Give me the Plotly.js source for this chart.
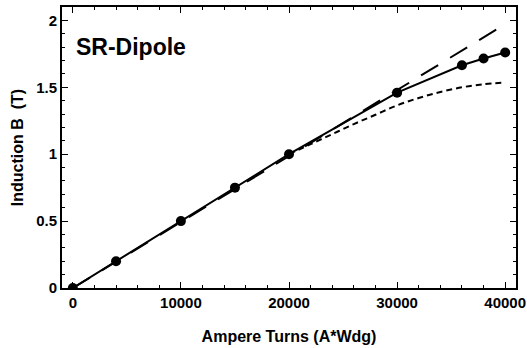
<!DOCTYPE html>
<html>
<head>
<meta charset="utf-8">
<script src="https://cdn.plot.ly/plotly-3.0.1.min.js"></script>
<style>html,body{margin:0;padding:0;background:#fff;}#chart{width:527px;height:348px;}</style>
</head>
<body>
<div id="chart"></div>
<script>
// Measured points (solid line with markers)
const ampTurns = [0, 4000, 10000, 15000, 20000, 30000, 36000, 38000, 40000];
const induction = [0, 0.2, 0.5, 0.75, 1.0, 1.46, 1.665, 1.715, 1.76];

// Linear extrapolation (long dash)
const linX = [0, 40000];
const linY = [0, 1.972];

// Saturating model curve (short dash)
const satX = [20000, 22000, 24000, 26000, 28000, 30000, 32000, 34000, 36000, 38000, 40000];
const satY = [1.0, 1.075, 1.15, 1.225, 1.295, 1.365, 1.42, 1.465, 1.50, 1.523, 1.535];

const xTickVals = [0, 10000, 20000, 30000, 40000];
const yTickVals = [0, 0.5, 1, 1.5, 2];
const yTickText = ['0', '0.5', '1', '1.5', '2'];

const FONT = 'Liberation Sans, Arial, sans-serif';

const traces = [
  {x: linX, y: linY, mode: 'lines', line: {color: '#000', width: 2, dash: '20px,14px'}, hoverinfo: 'skip'},
  {x: satX, y: satY, mode: 'lines', line: {color: '#000', width: 2, dash: '6px,4px', shape: 'spline'}, hoverinfo: 'skip'},
  {x: ampTurns, y: induction, mode: 'lines+markers', line: {color: '#000', width: 2}, marker: {color: '#000', size: 10}}
];

const axisCommon = {
  showgrid: false, zeroline: false, showline: true, linecolor: '#000', linewidth: 2,
  mirror: 'allticks', ticks: 'inside', ticklen: 6, tickwidth: 1, tickcolor: '#000',
  tickfont: {family: FONT, size: 15, color: '#000', weight: 'bold'}
};

const layout = {
  width: 527, height: 348,
  margin: {l: 62, r: 11, t: 7, b: 60},
  paper_bgcolor: '#fff', plot_bgcolor: '#fff',
  showlegend: false,
  xaxis: Object.assign({}, axisCommon, {
    range: [-1000, 41000], tickvals: xTickVals, ticktext: xTickVals.map(String),
    minor: {dtick: 2000, tick0: 0, ticks: 'inside', ticklen: 3, tickcolor: '#000', tickwidth: 1},
    automargin: false,
    title: {text: 'Ampere Turns (A*Wdg)', font: {family: FONT, size: 16, color: '#000', weight: 'bold'}, standoff: 21}
  }),
  yaxis: Object.assign({}, axisCommon, {
    range: [0, 2.1], tickvals: yTickVals, ticktext: yTickText,
    minor: {dtick: 0.1, tick0: 0, ticks: 'inside', ticklen: 3, tickcolor: '#000', tickwidth: 1},
    automargin: false,
    title: {text: 'Induction B  (T)', font: {family: FONT, size: 16, color: '#000', weight: 'bold'}, standoff: 9}
  }),
  annotations: [{
    xref: 'paper', yref: 'paper', x: 0.026, y: 0.858, xanchor: 'left', yanchor: 'middle',
    text: 'SR-Dipole', showarrow: false,
    font: {family: FONT, size: 23, color: '#000', weight: 'bold'}
  }]
};

Plotly.newPlot('chart', traces, layout, {displayModeBar: false, staticPlot: true});
</script>
</body>
</html>
